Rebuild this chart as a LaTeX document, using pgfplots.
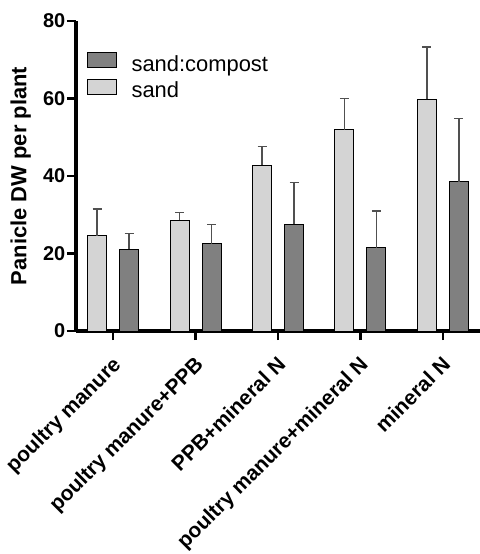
\documentclass[border=0pt]{standalone}
\usepackage{fontspec}
\setmainfont{Liberation Sans}
\usepackage{pgfplots}
\usepackage{pgfplotstable}
\pgfplotsset{compat=1.18}
\definecolor{barlight}{HTML}{D4D4D4}
\definecolor{bardark}{HTML}{808080}
\definecolor{errgray}{HTML}{505050}

% x, mean, upper error
\pgfplotstableread{
x y err
0 24.6 6.9
1 28.6 1.9
2 42.8 4.9
3 52.0 8.0
4 59.8 13.5
}\sand
\pgfplotstableread{
x y err
0 21.1 4.0
1 22.5 4.9
2 27.5 10.9
3 21.5 9.5
4 38.5 16.4
}\compost

\begin{document}
\begin{tikzpicture}
\useasboundingbox (0,0) rectangle (480bp,554bp);
\begin{axis}[
  at={(76bp,223bp)}, anchor=south west,
  scale only axis, width=404bp, height=310bp,
  xmin=-0.45, xmax=4.45, ymin=0, ymax=80,
  enlargelimits=false,
  axis lines*=left,
  axis line style={line width=3bp, black},
  tick align=outside,
  major tick length=9bp,
  tick style={line width=2.5bp, black},
  xtick={0,1,2,3,4},
  xticklabels={poultry manure, poultry manure+PPB, PPB+mineral N, poultry manure+mineral N, mineral N},
  xticklabel style={xshift=-2bp, yshift=-15bp, rotate=45, anchor=north east, inner sep=0pt,
    font=\bfseries\fontsize{21}{24}\selectfont},
  ytick={0,20,40,60,80},
  yticklabel style={font=\bfseries\fontsize{20}{24}\selectfont, inner sep=1.5bp},
  /pgf/number format/assume math mode=true,
  ylabel={Panicle DW per plant},
  ylabel style={font=\bfseries\fontsize{22}{26}\selectfont, at={(axis description cs:-0.137,0.5)}, anchor=center},
  ybar, bar width=19bp,
  legend image code/.code={\draw[#1, line width=1bp] (0bp,-2bp) rectangle (29bp,13bp);},
  legend style={at={(0.027,0.90)}, anchor=north west, draw=none, fill=none,
    font=\fontsize{22}{26}\selectfont, inner sep=0pt, column sep=12bp,
    nodes={inner sep=2.5bp, text height=16bp, text depth=5bp}},
  legend cell align=left,
]
\addplot[forget plot, fill=barlight, draw=black, line width=1bp, bar shift=-16bp,
  error bars/.cd, y dir=plus, y explicit,
  error bar style={line width=1.3bp, errgray},
  error mark options={rotate=90, mark size=4.5bp, line width=1.3bp, errgray}]
  table[x=x, y=y, y error=err] {\sand};
\addplot[forget plot, fill=bardark, draw=black, line width=1bp, bar shift=16bp,
  error bars/.cd, y dir=plus, y explicit,
  error bar style={line width=1.3bp, errgray},
  error mark options={rotate=90, mark size=4.5bp, line width=1.3bp, errgray}]
  table[x=x, y=y, y error=err] {\compost};
\addlegendimage{fill=bardark, draw=black}
\addlegendentry{sand:compost}
\addlegendimage{fill=barlight, draw=black}
\addlegendentry{sand}
\end{axis}
\end{tikzpicture}
\end{document}
